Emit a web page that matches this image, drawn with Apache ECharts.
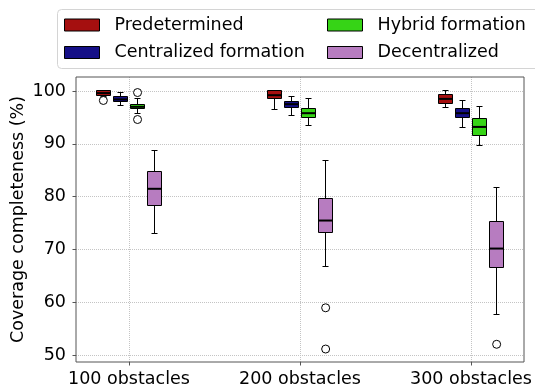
<!DOCTYPE html>
<html>
<head>
<meta charset="utf-8">
<script src="https://cdn.jsdelivr.net/npm/echarts@6/dist/echarts.min.js"></script>
<style>
  html, body { margin: 0; padding: 0; background: #fff; }
  #chart { width: 535px; height: 385px; }
</style>
</head>
<body>
<div id="chart"></div>
<script>
var categories = ['100 obstacles', '200 obstacles', '300 obstacles'];
var methods = ['Predetermined', 'Centralized formation', 'Hybrid formation', 'Decentralized'];

// [min, q1, median, q3, max] for each obstacle count
var predetermined = [[99.0, 99.2, 99.6, 100.0, 100.0], [96.5, 98.5, 99.2, 100.0, 100.0], [96.9, 97.7, 98.5, 99.3, 100.0]];
var centralized = [[97.3, 98.0, 98.4, 99.0, 99.8], [95.3, 96.9, 97.5, 98.1, 98.9], [93.1, 95.0, 95.8, 96.6, 98.2]];
var hybrid = [[95.8, 96.6, 97.0, 97.5, 98.6], [93.4, 95.0, 95.8, 96.6, 98.5], [89.6, 91.5, 93.2, 94.7, 97.0]];
var decentralized = [[73.1, 78.4, 81.5, 84.8, 88.7], [66.8, 73.2, 75.5, 79.6, 86.8], [57.8, 66.6, 70.2, 75.4, 81.8]];

// outliers: [category index, value]
var predeterminedOut = [[0, 98.2]];
var centralizedOut = [];
var hybridOut = [[0, 99.7], [0, 94.6]];
var decentralizedOut = [[1, 59.0], [1, 51.2], [2, 52.1]];

var yTicks = [50, 60, 70, 80, 90, 100];

var colors = ['#a50f0f', '#150f87', '#36d416', '#b77cc0'];
var OFFSETS = [-0.15, -0.05, 0.05, 0.15];
var BOX_WIDTH = 0.08;
var CAP_WIDTH = 0.04;
var FONT = 'DejaVu Sans';

var boxSets = [predetermined, centralized, hybrid, decentralized];
var outSets = [predeterminedOut, centralizedOut, hybridOut, decentralizedOut];

function crisp(v) {
  return Math.round(v - 0.5) + 0.5;
}

function renderBox(params, api) {
  var x = api.value(0);
  var cx = crisp(api.coord([x, 60])[0]);
  var py = function (i) { return api.coord([x, api.value(i)])[1]; };
  var lo = crisp(py(1)), q1 = crisp(py(2)), md = py(3), q3 = crisp(py(4)), hi = crisp(py(5));
  var halfBox = Math.round(api.size([BOX_WIDTH, 0])[0] / 2);
  var halfCap = Math.round(api.size([CAP_WIDTH, 0])[0] / 2);
  function ln(x1, y1, x2, y2, w) {
    return { type: 'line', shape: { x1: x1, y1: y1, x2: x2, y2: y2 }, style: { stroke: '#000', lineWidth: w || 1 } };
  }
  return {
    type: 'group',
    children: [
      ln(cx, q1, cx, lo),
      ln(cx, q3, cx, hi),
      ln(cx - halfCap, lo, cx + halfCap, lo),
      ln(cx - halfCap, hi, cx + halfCap, hi),
      {
        type: 'rect',
        shape: { x: cx - halfBox, y: q3, width: 2 * halfBox, height: Math.max(q1 - q3, 1) },
        style: { fill: api.visual('color'), stroke: '#000', lineWidth: 1 }
      },
      ln(cx - halfBox, md, cx + halfBox, md, 2)
    ]
  };
}

var series = [];
methods.forEach(function (name, m) {
  series.push({
    name: name,
    type: 'custom',
    renderItem: renderBox,
    itemStyle: { color: colors[m], borderColor: '#000', borderWidth: 1 },
    encode: { x: 0, y: [1, 2, 3, 4, 5] },
    data: boxSets[m].map(function (s, c) { return [c + 1 + OFFSETS[m]].concat(s); }),
    clip: false,
    z: 3
  });
});
methods.forEach(function (name, m) {
  series.push({
    name: name + ' outliers',
    type: 'scatter',
    symbol: 'circle',
    symbolSize: 8,
    itemStyle: { color: '#fff', borderColor: '#000', borderWidth: 1, opacity: 1 },
    data: outSets[m].map(function (p) { return [p[0] + 1 + OFFSETS[m], p[1]]; }),
    silent: true,
    z: 4
  });
});

function legendFor(names, left) {
  return {
    data: names,
    orient: 'vertical',
    left: left,
    top: 16,
    padding: 0,
    icon: 'rect',
    itemWidth: 35,
    itemHeight: 12,
    itemGap: 9.5,
    itemStyle: { borderColor: '#000', borderWidth: 1 },
    textStyle: { fontFamily: FONT, fontSize: 17.5, lineHeight: 18, color: '#000', padding: [0, 0, 0, 10] },
    selectedMode: false
  };
}

var chart = echarts.init(document.getElementById('chart'));
chart.setOption({
  animation: false,
  textStyle: { fontFamily: FONT },
  graphic: [{
    type: 'rect',
    shape: { x: 57.5, y: 9.5, width: 490, height: 59, r: 4 },
    style: { fill: '#fff', stroke: '#d4d4d4', lineWidth: 1 },
    z: 0
  }],
  legend: [legendFor([methods[0], methods[1]], 64), legendFor([methods[2], methods[3]], 327)],
  grid: {
    left: 76, right: 11, top: 77, bottom: 23,
    containLabel: false, outerBoundsMode: 'none',
    show: true, borderColor: '#555', borderWidth: 1, z: 2
  },
  xAxis: {
    type: 'value',
    min: 0.69, max: 3.31,
    minInterval: 1, maxInterval: 1,
    axisLine: { show: false },
    axisTick: { show: true, length: 3.5, lineStyle: { color: '#555' }, customValues: [1, 2, 3] },
    axisLabel: {
      fontFamily: FONT, fontSize: 17.5, color: '#000', margin: 8,
      showMinLabel: false, showMaxLabel: false,
      formatter: function (v) {
        var i = Math.round(v);
        return Math.abs(v - i) < 1e-6 && i >= 1 && i <= categories.length ? categories[i - 1] : '';
      }
    },
    splitLine: { show: true, lineStyle: { color: '#c4c4c4', type: 'dotted' } }
  },
  yAxis: {
    type: 'value',
    min: 48.75, max: 102.64,
    minInterval: 10, maxInterval: 10,
    name: 'Coverage completeness (%)',
    nameLocation: 'middle',
    nameGap: 49,
    nameMoveOverlap: false,
    nameTextStyle: { fontFamily: FONT, fontSize: 17.5, color: '#000' },
    axisLine: { show: false },
    axisTick: { show: true, length: 3.5, lineStyle: { color: '#555' }, customValues: yTicks },
    axisLabel: {
      fontFamily: FONT, fontSize: 17.5, color: '#000', margin: 10,
      showMinLabel: false, showMaxLabel: false,
      formatter: function (v) { return yTicks.indexOf(Math.round(v)) >= 0 && Math.abs(v - Math.round(v)) < 1e-6 ? String(Math.round(v)) : ''; }
    },
    splitLine: { show: true, lineStyle: { color: '#c4c4c4', type: 'dotted' } }
  },
  series: series
});
</script>
</body>
</html>
